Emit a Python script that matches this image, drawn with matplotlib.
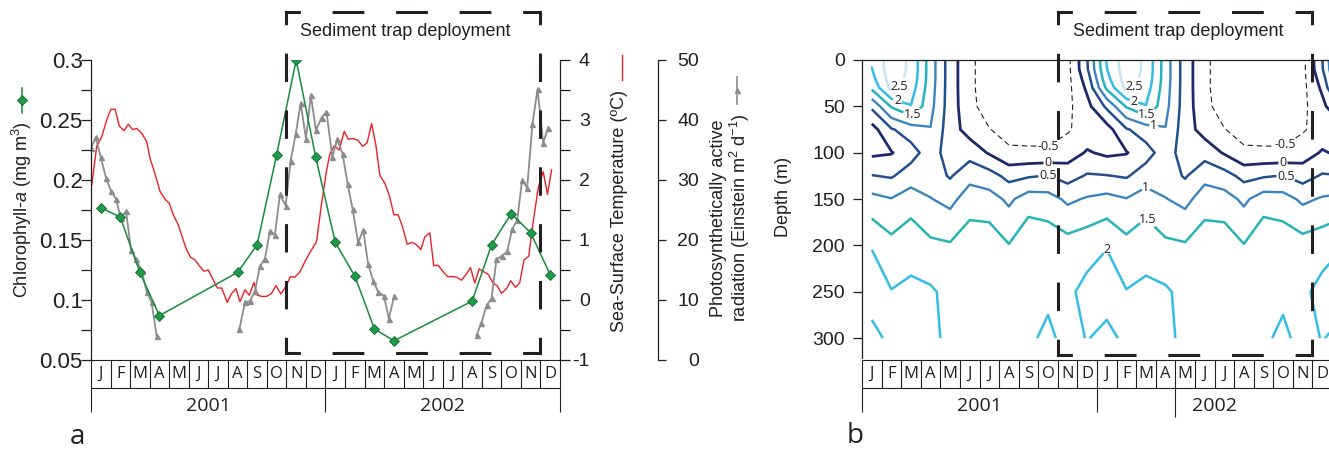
import numpy as np
import matplotlib
matplotlib.use('Agg')
import matplotlib.pyplot as plt
from matplotlib.lines import Line2D
from matplotlib.ticker import MultipleLocator

plt.rcParams['font.family'] = ['Liberation Sans', 'DejaVu Sans']
plt.rcParams['mathtext.fontset'] = 'custom'
plt.rcParams['mathtext.rm'] = 'Liberation Sans'
plt.rcParams['mathtext.it'] = 'Liberation Sans:italic'
plt.rcParams['lines.scale_dashes'] = False
plt.rcParams['lines.dashed_pattern'] = [4.0, 2.6]

# ---------------- data ----------------
month_letters = ['J', 'F', 'M', 'A', 'M', 'J', 'J', 'A', 'S', 'O', 'N', 'D']
year_labels = ['2001', '2002']

# time axis: months since 1 Jan 2001
chl_month = [0.5, 1.5, 2.5, 3.5, 7.5, 8.5, 9.5, 10.5, 11.5, 12.5, 13.5, 14.5, 15.5,
             19.5, 20.5, 21.5, 22.5, 23.5]
chl = [0.177, 0.169, 0.123, 0.087, 0.123, 0.146, 0.221, 0.300, 0.219, 0.148, 0.120,
       0.076, 0.066, 0.099, 0.146, 0.172, 0.156, 0.121]

par_month_1 = [0.0, 0.24, 0.50, 0.77, 1.02, 1.28, 1.52, 1.79, 2.05, 2.30, 2.59, 2.85, 3.10, 3.36]
par_1 = [35.3, 37.1, 33.8, 30.3, 28.2, 26.8, 23.7, 24.8, 18.4, 16.8, 14.8, 11.4, 9.6, 4.0]
par_month_2 = [7.59, 7.88, 8.13, 8.39, 8.64, 8.90, 9.16, 9.41, 9.67, 9.96, 10.21, 10.47, 10.73,
               11.0, 11.25, 11.51, 11.80, 12.05, 12.35, 12.60, 12.87, 13.13, 13.39, 13.67,
               13.93, 14.18, 14.44, 14.70, 14.99, 15.24, 15.51]
par_2 = [5.1, 9.6, 9.8, 11.5, 15.6, 16.9, 21.5, 20.9, 27.6, 25.7, 33.1, 37.6, 42.8, 36.9, 44.1,
         38.3, 40.4, 41.4, 33.8, 36.8, 34.4, 29.4, 25.1, 19.6, 21.7, 16.0, 13.2, 11.3, 10.7,
         6.9, 10.6]
par_month_3 = [19.73, 19.98, 20.24, 20.50, 20.75, 21.01, 21.30, 21.55, 21.81, 22.06, 22.32,
               22.59, 22.85, 23.14, 23.39]
par_3 = [4.1, 6.2, 9.1, 10.3, 16.8, 17.3, 18.1, 21.8, 23.3, 30.0, 28.7, 39.3, 45.1, 36.2, 38.7]

sst_month = [0.04, 0.29, 0.55, 0.80, 1.02, 1.23, 1.45, 1.69, 1.91, 2.13, 2.34, 2.59, 2.85, 3.02,
             3.27, 3.53, 3.79, 4.01, 4.21, 4.47, 4.69, 4.90, 5.10, 5.32, 5.54, 5.78, 6.00, 6.23,
             6.46, 6.69, 6.97, 7.20, 7.42, 7.62, 7.88, 8.10, 8.34, 8.51, 8.73, 8.99, 9.24, 9.46,
             9.72, 9.96, 10.21, 10.43, 10.69, 10.95, 11.20, 11.54, 11.80, 12.06, 12.23, 12.45,
             12.70, 12.96, 13.16, 13.42, 13.67, 13.90, 14.13, 14.36, 14.58, 14.78, 15.04, 15.26,
             15.50, 15.72, 15.94, 16.18, 16.43, 16.66, 16.88, 17.08, 17.34, 17.54, 17.76, 18.02,
             18.25, 18.50, 18.71, 18.96, 19.18, 19.42, 19.64, 19.86, 20.10, 20.32, 20.58, 20.78,
             21.01, 21.26, 21.48, 21.72, 21.94, 22.16, 22.40, 22.62, 22.88, 23.14, 23.36, 23.57]
sst = [1.92, 2.56, 2.72, 3.0, 3.18, 3.18, 2.9, 2.82, 2.93, 2.84, 2.86, 2.78, 2.64, 2.36, 2.11,
       1.81, 1.68, 1.61, 1.42, 1.25, 1.03, 0.83, 0.71, 0.67, 0.57, 0.48, 0.5, 0.35, 0.2, 0.2,
       -0.04, 0.11, 0.19, -0.03, 0.17, 0.08, 0.29, 0.08, 0.06, 0.06, 0.11, 0.24, 0.1, 0.22,
       0.39, 0.38, 0.47, 0.64, 0.79, 0.97, 1.61, 2.17, 2.44, 2.57, 2.5, 2.81, 2.68, 2.69, 2.66,
       2.56, 2.62, 2.94, 2.58, 2.08, 1.94, 1.75, 1.42, 1.42, 1.22, 0.93, 0.96, 0.92, 0.84, 1.05,
       1.12, 0.57, 0.58, 0.47, 0.39, 0.39, 0.38, 0.33, 0.42, 0.54, 0.28, 0.52, 0.47, 0.43, 0.28,
       0.24, 0.11, 0.19, 0.32, 0.21, 0.29, 0.67, 0.73, 1.28, 1.86, 2.14, 1.76, 2.17]

# panel b: monthly climatological profiles (same for 2001 and 2002)
depth = [0, 10, 20, 30, 50, 75, 100, 125, 150, 200, 250, 300]
profile_jan = [2.05, 1.98, 1.85, 1.60, 0.60, -0.20, -0.10, 0.52, 1.15, 1.98, 2.20, 1.87]
profile_feb = [2.80, 2.80, 2.75, 2.65, 1.55, 0.45, -0.03, 0.45, 1.02, 1.65, 2.02, 2.10]
profile_mar = [2.40, 2.40, 2.35, 2.25, 1.98, 0.75, 0.30, 0.75, 1.25, 1.85, 2.08, 2.15]
profile_apr = [1.25, 1.25, 1.25, 1.22, 1.15, 0.98, 0.75, 0.75, 1.02, 1.60, 2.07, 2.08]
profile_may = [0.25, 0.25, 0.25, 0.25, 0.25, 0.22, 0.25, 0.45, 0.85, 1.55, 1.85, 1.92]
profile_jun = [-0.38, -0.38, -0.38, -0.38, -0.35, -0.20, 0.30, 0.85, 1.25, 1.80, 1.90, 1.85]
profile_jul = [-0.80, -0.80, -0.80, -0.80, -0.75, -0.48, -0.05, 0.70, 1.20, 1.80, 1.90, 1.85]
profile_aug = [-0.90, -0.90, -0.90, -0.90, -0.90, -0.70, -0.40, 0.35, 0.90, 1.52, 1.85, 1.85]
profile_sep = [-0.95, -0.95, -0.95, -0.95, -0.90, -0.75, -0.40, 0.45, 1.25, 1.90, 1.90, 1.92]
profile_oct = [-0.95, -0.95, -0.95, -0.95, -0.90, -0.75, -0.40, 0.52, 1.20, 1.82, 1.90, 2.10]
profile_nov = [-0.65, -0.65, -0.65, -0.65, -0.62, -0.55, -0.25, 0.30, 0.90, 1.70, 1.90, 1.85]
profile_dec = [0.48, 0.45, 0.25, 0.10, -0.15, -0.30, 0.05, 0.55, 1.05, 1.80, 2.15, 2.02]
contour_levels = [-0.5, 0, 0.5, 1, 1.5, 2, 2.5]

trap_start, trap_end = 10, 23   # Nov 2001 - Nov 2002 (months since Jan 2001)

# ---------------- figure ----------------
W, H = 1329, 458
fig = plt.figure(figsize=(W / 100, H / 100), dpi=100)
INK = '#231f20'


def fx(px):
    return px / W


def fy(py):
    return 1 - py / H


def month_grid(ax, year_lines):
    tr = ax.get_xaxis_transform()
    y0, y1 = 0.0, -28 / 300
    kw = dict(transform=tr, clip_on=False, color=INK, lw=0.8, solid_capstyle='butt')
    ax.add_line(Line2D([0, 24], [y0, y0], **kw))
    ax.add_line(Line2D([0, 24], [y1, y1], **kw))
    for k in range(25):
        ax.add_line(Line2D([k, k], [y0, y1], **kw))
    for k, lab in enumerate(month_letters * 2):
        ax.text(k + 0.5, (y0 + y1) / 2, lab, transform=tr, ha='center', va='center',
                fontsize=12, family='Open Sans', color=INK)
    for xv, ybot in year_lines:
        ax.add_line(Line2D([xv, xv], [y1, ybot], **kw))
    for i, lab in enumerate(year_labels):
        ax.text(6 + 12 * i, -46 / 300, lab, transform=tr, ha='center', va='center',
                fontsize=14, family='Open Sans', color=INK)


def trap_box(ax, x0, x1, ytop, ybot, n_h, n_v):
    """Dashed rectangle whose sides start and end with half dashes (L-shaped corners)."""
    fig.canvas.draw()
    p00 = ax.transData.transform((x0, ytop))
    p11 = ax.transData.transform((x1, ybot))
    lw = 2.2
    wpx = abs(p11[0] - p00[0])
    hpx = abs(p11[1] - p00[1])
    sides = [((x0, x1), (ytop, ytop), wpx, n_h),
             ((x0, x1), (ybot, ybot), wpx, n_h),
             ((x0, x0), (ytop, ybot), hpx, n_v),
             ((x1, x1), (ytop, ybot), hpx, n_v)]
    for xs, ys, Lpx, n in sides:
        seg = Lpx * 0.72 / (2 * n)
        on, off = seg - lw, seg + lw
        ln = Line2D(xs, ys, color=INK, lw=lw, clip_on=False,
                    linestyle=(on / 2 + lw / 2, (on, off)), dash_capstyle='projecting')
        ax.add_line(ln)


# ---------------- panel a ----------------
ax1 = fig.add_axes([fx(91), fy(360), 469 / W, 300 / H])
ax2 = ax1.twinx()
ax3 = ax1.twinx()
ax1.set_zorder(5)
ax1.patch.set_visible(False)
ax2.set_zorder(2)
ax3.set_zorder(3)

ax1.set_xlim(0, 24)
ax1.set_ylim(0.05, 0.3)
ax2.set_ylim(-1, 4)
ax3.set_ylim(0, 50)

for ax in (ax1, ax2, ax3):
    for s in ax.spines.values():
        s.set_visible(False)
    ax.set_xticks([])
    ax.tick_params(axis='x', which='both', length=0)

ax1.spines['left'].set_visible(True)
ax2.spines['right'].set_visible(True)
ax3.spines['right'].set_visible(True)
ax3.spines['right'].set_position(('outward', 98 * 0.72))
for ax in (ax1, ax2, ax3):
    for s in ax.spines.values():
        s.set_linewidth(0.9)
        s.set_color(INK)

ax1.set_yticks([0.05, 0.1, 0.15, 0.2, 0.25, 0.3], ['0.05', '0.1', '0.15', '0.2', '0.25', '0.3'])
ax1.yaxis.set_minor_locator(MultipleLocator(0.025))
ax1.tick_params(axis='y', which='both', direction='out', length=7, width=0.9, color=INK,
                pad=-1, labelsize=16, labelcolor=INK)

ax2.set_yticks([-1, 0, 1, 2, 3, 4], ['-1', '0', '1', '2', '3', '4'])
ax2.yaxis.set_minor_locator(MultipleLocator(0.5))
ax2.tick_params(axis='y', which='both', direction='out', length=7, width=0.9, color=INK,
                pad=14.4, labelsize=14, labelcolor=INK)
plt.setp(ax2.get_yticklabels(), ha='right')

ax3.set_yticks([0, 10, 20, 30, 40, 50], ['0', '10', '20', '30', '40', '50'])
ax3.tick_params(axis='y', which='both', direction='out', length=6, width=0.9, color=INK,
                pad=23.5, labelsize=14, labelcolor=INK)
plt.setp(ax3.get_yticklabels(), ha='right')

RED, GRAY, GREEN = '#ec2027', '#8c8c8c', '#1a8a3c'
ax2.plot(sst_month, sst, color=RED, lw=1.0)
for pm, pv in ((par_month_1, par_1), (par_month_2, par_2), (par_month_3, par_3)):
    ax3.plot(pm, pv, color=GRAY, lw=1.3, marker='^', markersize=3.6, markerfacecolor=GRAY,
             markeredgecolor=GRAY)
ax1.plot(chl_month, chl, color=GREEN, lw=1.1, marker='D', markersize=5.6,
         markerfacecolor='#1f9a48', markeredgecolor='#0d6a2f', markeredgewidth=0.6)

month_grid(ax1, [(0, -52 / 300), (12, -52 / 300), (24, -52 / 300)])

# axis labels with key symbols
fig.text(fx(22), fy(210), 'Chlorophyll-$a$ (mg m$^{3}$)', rotation=90, ha='center', va='center',
         fontsize=13, color=INK)
fig.add_artist(Line2D([fx(22), fx(22)], [fy(88), fy(113)], transform=fig.transFigure,
                      color=GREEN, lw=1.1))
fig.add_artist(Line2D([fx(22)], [fy(100)], transform=fig.transFigure, marker='D',
                      markersize=5.6, markerfacecolor='#1f9a48', markeredgecolor='#0d6a2f',
                      markeredgewidth=0.6, linestyle='none'))
fig.text(fx(620), fy(211), 'Sea-Surface Temperature (ºC)', rotation=90, ha='center',
         va='center', fontsize=13, color=INK)
fig.add_artist(Line2D([fx(622), fx(622)], [fy(55), fy(80)], transform=fig.transFigure,
                      color=RED, lw=1.0))
fig.text(fx(731), fy(218), 'Photosynthetically active\nradiation (Einstein m$^{2}$ d$^{-1}$)',
         rotation=90, ha='center', va='center', fontsize=13, color=INK, linespacing=1.0,
         multialignment='center')
fig.add_artist(Line2D([fx(737), fx(737)], [fy(77), fy(104)], transform=fig.transFigure,
                      color=GRAY, lw=1.2))
fig.add_artist(Line2D([fx(737)], [fy(90)], transform=fig.transFigure, marker='^',
                      markersize=3.6, color=GRAY, linestyle='none'))

# ---------------- panel b ----------------
axr = fig.add_axes([fx(862), fy(360), 470 / W, 300 / H])
axr.set_xlim(0, 24)
axr.set_ylim(323.6, 0)
for s in axr.spines.values():
    s.set_visible(False)
axr.spines['left'].set_visible(True)
axr.spines['top'].set_visible(True)
for s in axr.spines.values():
    s.set_linewidth(0.9)
    s.set_color(INK)
axr.spines['left'].set_bounds(323.6 - 2, 0)
axr.set_xticks([])
axr.set_yticks([0, 50, 100, 150, 200, 250, 300])
axr.tick_params(axis='y', direction='out', length=6.5, width=0.9, color=INK, pad=6,
                labelsize=14, labelcolor=INK)
axr.set_ylabel('Depth (m)', fontsize=13, color=INK)
axr.yaxis.set_label_coords(-(862 - 792) / 470, 1 - (197 - 60) / 300)

climatology = [profile_jan, profile_feb, profile_mar, profile_apr, profile_may, profile_jun,
               profile_jul, profile_aug, profile_sep, profile_oct, profile_nov, profile_dec]
field = np.array(climatology + climatology + [profile_jan]).T   # 2001, 2002, Jan 2003
mid_month = np.arange(field.shape[1]) + 0.5

cont_colors = [INK, '#1c2a6b', '#234f8e', '#3c84bd', '#27b3b8', '#36bde4', '#c6e5ee']
cont_lw = [0.8, 2.0, 1.8, 1.7, 1.8, 1.8, 1.8]
cont_ls = ['dashed'] + ['solid'] * 6
cs = axr.contour(mid_month, depth, field, levels=contour_levels, colors=cont_colors,
                 linewidths=cont_lw, linestyles=cont_ls)

label_spots = [(2.0, 29), (1.77, 47), (2.54, 58), (9.55, 95), (9.5, 111), (9.5, 124),
               (14.0, 29), (13.85, 47), (14.5, 58), (14.9, 71), (14.5, 136), (14.55, 173),
               (12.5, 204), (21.7, 93), (21.5, 113), (21.6, 128)]
with plt.rc_context({'font.family': ['Open Sans', 'DejaVu Sans']}):
    cs.clabel(inline=True, fontsize=9, colors=INK, inline_spacing=1,
              fmt=lambda v: f'{v:g}', manual=label_spots)
for t in cs.labelTexts:
    t.set_rotation(0)

month_grid(axr, [(0, -52 / 300), (12, -52 / 300), (16, -57 / 300)])

# sediment trap boxes and titles
trap_box(ax1, trap_start, trap_end, 0.34, 0.0558, 4, 6)
trap_box(axr, trap_start, trap_end, -51.8, 318.2, 4, 6)
fig.text(fx(405), fy(31), 'Sediment trap deployment', ha='center', va='center', fontsize=13,
         color=INK)
fig.text(fx(1178), fy(31), 'Sediment trap deployment', ha='center', va='center', fontsize=13,
         color=INK)

fig.text(fx(77), fy(437), 'a', ha='center', va='center', fontsize=20, family='Open Sans',
         color=INK)
fig.text(fx(855), fy(436), 'b', ha='center', va='center', fontsize=20, family='Open Sans',
         color=INK)

fig.savefig('out.png', dpi=100)
